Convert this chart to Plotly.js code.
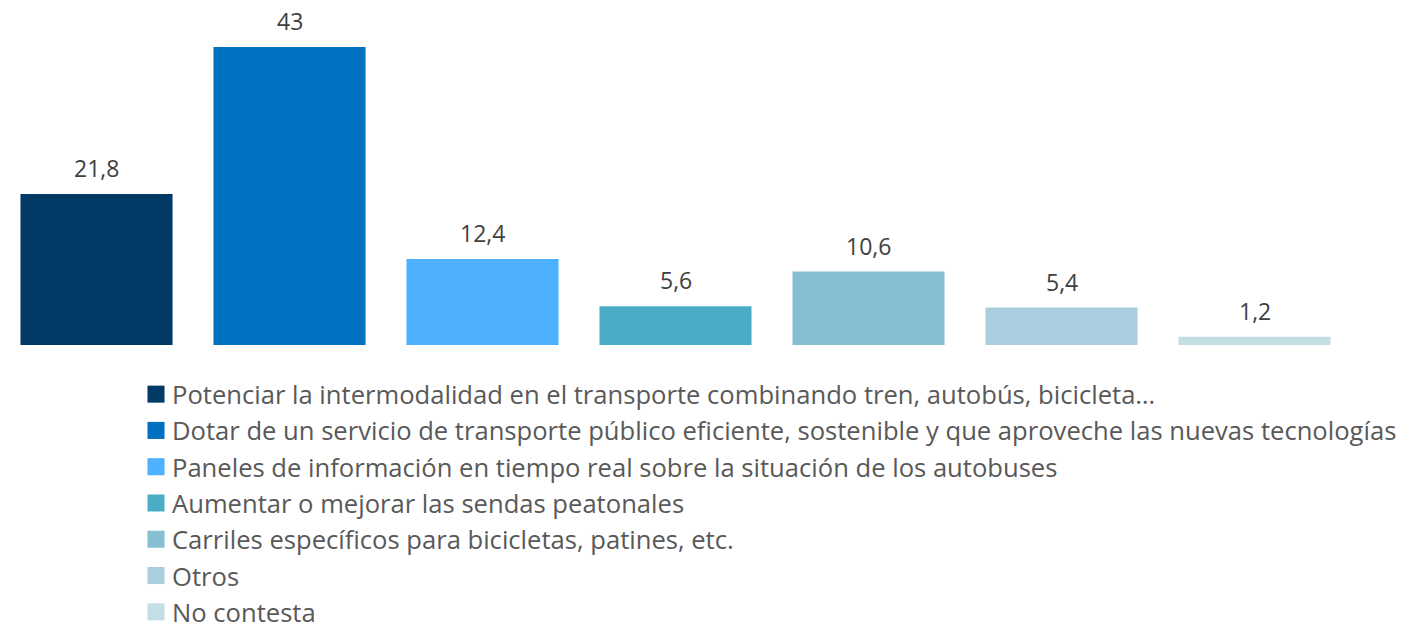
<!DOCTYPE html>
<html>
<head>
<meta charset="utf-8">
<script src="https://cdn.plot.ly/plotly-3.0.1.min.js"></script>
<style>
html,body{margin:0;padding:0;background:#fff;}
#chart{width:1409px;height:628px;}
</style>
</head>
<body>
<div id="chart"></div>
<script>
const categories = [
  "Potenciar la intermodalidad en el transporte combinando tren, autobús, bicicleta…",
  "Dotar de un servicio de transporte público eficiente, sostenible y que aproveche las nuevas tecnologías",
  "Paneles de información en tiempo real sobre la situación de los autobuses",
  "Aumentar o mejorar las sendas peatonales",
  "Carriles específicos para bicicletas, patines, etc.",
  "Otros",
  "No contesta"
];
const values = [21.8, 43, 12.4, 5.6, 10.6, 5.4, 1.2];
const valueLabels = ["21,8", "43", "12,4", "5,6", "10,6", "5,4", "1,2"];
const colors = ["#023A66", "#0070C0", "#4DB1FF", "#4BACC6", "#86BFD2", "#AACEDD", "#C5DEE6"];

const FONT = "'Open Sans', Lato, sans-serif";

const traces = categories.map((c, i) => ({
  type: "bar",
  name: c,
  x: [c],
  y: [values[i]],
  marker: {color: colors[i], line: {width: 0}},
  legendgroup: "g" + i,
  hoverinfo: "skip"
}));

const annotations = categories.map((c, i) => ({
  x: c, y: values[i], xref: "x", yref: "y",
  text: valueLabels[i], showarrow: false,
  yanchor: "bottom", yshift: 8,
  font: {family: FONT, size: 23, color: "#404040"}
}));

const layout = {
  width: 1409, height: 628,
  margin: {l: 0, r: 58, t: 20, b: 283, autoexpand: false},
  paper_bgcolor: "#fff", plot_bgcolor: "#fff",
  barmode: "overlay",
  bargap: 0.212,
  showlegend: true,
  xaxis: {type: "category", categoryarray: categories, range: [-0.5, 6.5],
          showticklabels: false, showgrid: false, zeroline: false, showline: false, ticks: ""},
  yaxis: {range: [0, 46.9], visible: false, showgrid: false, zeroline: false},
  legend: {
    orientation: "v", xref: "container", yref: "container",
    x: 132/1409, y: 1 - 371/628, xanchor: "left", yanchor: "top",
    font: {family: FONT, size: 25.6, color: "#595959"},
    itemwidth: 30, tracegroupgap: 10.5, traceorder: "normal",
    bgcolor: "rgba(0,0,0,0)", borderwidth: 0
  },
  annotations: annotations
};

Plotly.newPlot("chart", traces, layout, {displayModeBar: false, staticPlot: true}).then(gd => {
  gd.querySelectorAll(".legend .legendpoints path").forEach(p => {
    const t = p.getAttribute("transform") || "";
    p.setAttribute("transform", t + " translate(4,0) scale(1.42)");
  });
});
</script>
</body>
</html>
